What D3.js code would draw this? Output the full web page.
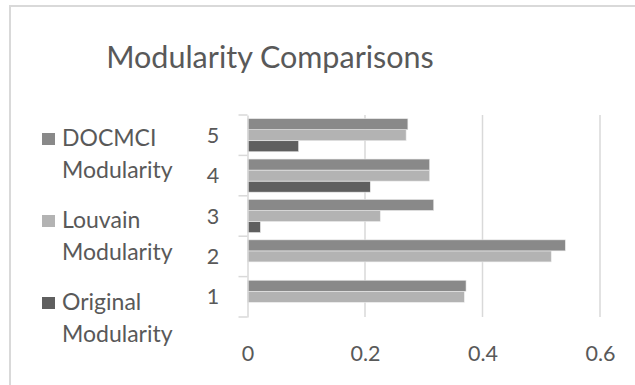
<!DOCTYPE html>
<html><head><meta charset="utf-8">
<script src="https://cdn.jsdelivr.net/npm/d3@7"></script>
<style>body{margin:0;background:#fff;} svg{display:block;}</style>
</head><body>
<svg id="c" width="635" height="385"></svg>
<script>
const categories = ["1","2","3","4","5"];
const seriesNames = ["Original Modularity","Louvain Modularity","DOCMCI Modularity"];
const original = [0, 0, 0.022, 0.209, 0.087];
const louvain  = [0.369, 0.517, 0.226, 0.310, 0.270];
const docmci   = [0.372, 0.541, 0.317, 0.310, 0.273];
const xTicks = [0, 0.2, 0.4, 0.6];
const colors = ["#5f5f5f", "#b3b3b3", "#898989"];

(function(){
const svg = d3.select("#c");
const font = "Lato, 'Open Sans', sans-serif";
const textCol = "#595959";

svg.append("path").attr("d","M10,385 L10,6 L635,6").attr("fill","none").attr("stroke","#d9d9d9").attr("stroke-width",2);

svg.append("text").attr("x",270).attr("y",68).attr("text-anchor","middle")
  .attr("font-family",font).attr("font-size",30.5).attr("fill",textCol).text("Modularity Comparisons");

const pL = 247.5, pR = 247.5 + 0.6*587.5, pT = 115, pB = 317;
const x = d3.scaleLinear().domain([0,0.6]).range([pL,pR]);
const y = d3.scaleBand().domain(categories.slice().reverse()).range([pT,pB]).paddingInner(0).paddingOuter(0);
const inner = d3.scaleBand().domain([2,1,0]).range([0,y.bandwidth()]).paddingOuter(0.33).paddingInner(0);

svg.append("g").selectAll("line").data(xTicks.slice(1)).join("line")
  .attr("x1",d=>x(d)).attr("x2",d=>x(d)).attr("y1",pT).attr("y2",pB)
  .attr("stroke","#d9d9d9").attr("stroke-width",1.5);

const data = [original, louvain, docmci];
const g = svg.append("g");
data.forEach((vals, si) => {
  g.selectAll(null).data(categories.map((c,i)=>({c, v: vals[i]}))).join("rect")
    .attr("x", x(0)).attr("y", d => y(d.c) + inner(si))
    .attr("width", d => x(d.v) - x(0)).attr("height", inner.bandwidth())
    .attr("fill", colors[si]).attr("stroke","#ececec").attr("stroke-width",0.6);
});

const ya = svg.append("g").attr("transform",`translate(${pL},0)`).call(d3.axisLeft(y).tickSize(0).tickSizeOuter(0));
ya.select(".domain").attr("stroke","#d9d9d9").attr("stroke-width",1.5);
ya.selectAll(".tick").remove();
const tickPos = d3.range(categories.length+1).map(i => pT + i*y.step());
svg.append("g").selectAll("line").data(tickPos).join("line")
  .attr("x1",pL-9).attr("x2",pL).attr("y1",d=>d).attr("y2",d=>d)
  .attr("stroke","#d9d9d9").attr("stroke-width",1.5);
svg.append("g").selectAll("text").data(categories).join("text")
  .attr("x", 213).attr("y", d => y(d) + y.bandwidth()/2 + 7.5)
  .attr("text-anchor","middle").attr("font-family",font).attr("font-size",21.5).attr("fill",textCol).text(d=>d);

const xa = svg.append("g").attr("transform",`translate(0,${pB})`)
  .call(d3.axisBottom(x).tickValues(xTicks).tickSize(0).tickFormat(d3.format("~g")));
xa.select(".domain").remove();
xa.selectAll(".tick text").attr("font-family",font).attr("font-size",21.5).attr("fill",textCol).attr("dy",0).attr("y",44);

const legendOrder = [2,1,0];
const lg = svg.append("g");
legendOrder.forEach((si, k) => {
  const y0 = 133 + k*82;
  lg.append("rect").attr("x",42).attr("y",y0).attr("width",13).attr("height",12).attr("fill",colors[si]);
  const words = seriesNames[si].split(" ");
  lg.append("text").attr("x",62).attr("y",y0+13).attr("font-family",font).attr("font-size",23).attr("fill",textCol).text(words[0]);
  lg.append("text").attr("x",62).attr("y",y0+45).attr("font-family",font).attr("font-size",23).attr("fill",textCol).text(words[1]);
});
})();
</script>
</body></html>
